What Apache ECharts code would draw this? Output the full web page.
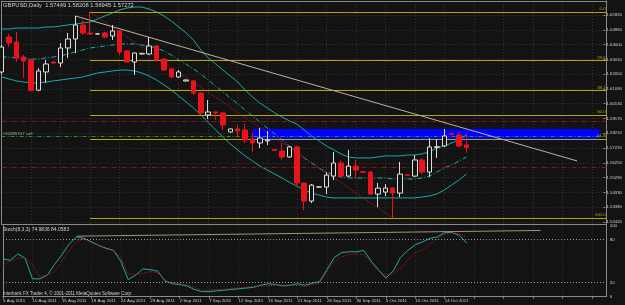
<!DOCTYPE html>
<html><head><meta charset="utf-8">
<script src="https://cdn.jsdelivr.net/npm/echarts/dist/echarts.min.js"></script>
<style>html,body{margin:0;padding:0;background:#131313}#c{width:625px;height:305px}</style>
</head><body><div id="c"></div>
<script>
const symbolName = 'GBPUSD,Daily';
const dates = ['5 Aug 2011','7 Aug 2011','8 Aug 2011','9 Aug 2011','10 Aug 2011','11 Aug 2011','12 Aug 2011','14 Aug 2011','15 Aug 2011','16 Aug 2011','17 Aug 2011','18 Aug 2011','19 Aug 2011','21 Aug 2011','22 Aug 2011','23 Aug 2011','24 Aug 2011','25 Aug 2011','26 Aug 2011','28 Aug 2011','29 Aug 2011','30 Aug 2011','31 Aug 2011','1 Sep 2011','2 Sep 2011','4 Sep 2011','5 Sep 2011','6 Sep 2011','7 Sep 2011','8 Sep 2011','9 Sep 2011','11 Sep 2011','12 Sep 2011','13 Sep 2011','14 Sep 2011','15 Sep 2011','16 Sep 2011','18 Sep 2011','19 Sep 2011','20 Sep 2011','21 Sep 2011','22 Sep 2011','23 Sep 2011','25 Sep 2011','26 Sep 2011','27 Sep 2011','28 Sep 2011','29 Sep 2011','30 Sep 2011','2 Oct 2011','3 Oct 2011','4 Oct 2011','5 Oct 2011','6 Oct 2011','7 Oct 2011','9 Oct 2011','10 Oct 2011','11 Oct 2011','12 Oct 2011','13 Oct 2011','14 Oct 2011','16 Oct 2011','17 Oct 2011','18 Oct 2011'];
const emptyBars = 19;
// [open, close, low, high]
const ohlc = [
[1.62204,1.63834,1.62073,1.63964],[1.64486,1.64094,1.63834,1.64681],[1.64160,1.63116,1.62856,1.64812],[1.63182,1.62921,1.61812,1.63312],
[1.62986,1.61018,1.60953,1.63051],[1.61018,1.62269,1.60953,1.62460],[1.62204,1.62725,1.61486,1.62986],[1.62856,1.62790,1.62725,1.62921],
[1.62790,1.63768,1.62530,1.64094],[1.63768,1.64355,1.63116,1.64746],[1.64355,1.65268,1.63442,1.65855],[1.65268,1.64746,1.64616,1.65594],
[1.64746,1.64681,1.64616,1.66116],[1.64681,1.64690,1.64650,1.64720],[1.64746,1.64486,1.64420,1.64812],[1.64551,1.64877,1.64290,1.65268],
[1.64877,1.63508,1.63312,1.64942],[1.63573,1.62856,1.62800,1.63638],[1.62856,1.63442,1.62008,1.63470],[1.63377,1.63420,1.63350,1.63450],
[1.63377,1.63899,1.63312,1.64486],[1.63899,1.62986,1.62856,1.63964],[1.63051,1.62334,1.62269,1.63116],[1.62399,1.61878,1.61812,1.62460],
[1.61878,1.62204,1.61812,1.62334],[1.61616,1.61682,1.61580,1.61720],[1.61616,1.60834,1.60704,1.61682],[1.60834,1.59530,1.59465,1.60899],
[1.59400,1.59596,1.59139,1.60378],[1.59596,1.59530,1.59074,1.59620],[1.59530,1.58748,1.58422,1.59596],[1.58292,1.58487,1.58250,1.58520],
[1.58487,1.58356,1.57966,1.58748],[1.58422,1.57770,1.57574,1.58813],[1.57835,1.57574,1.56988,1.58226],[1.57574,1.57900,1.57248,1.58552],
[1.57705,1.57770,1.57444,1.58356],[1.57150,1.57090,1.57050,1.57180],[1.57053,1.56662,1.56466,1.57574],[1.56662,1.57314,1.56596,1.57379],
[1.57314,1.54962,1.54762,1.57379],[1.54962,1.53786,1.53198,1.54990],[1.53786,1.54828,1.53655,1.54894],[1.54698,1.54710,1.54650,1.54750],
[1.54698,1.55480,1.54242,1.55676],[1.55416,1.56270,1.55154,1.56988],[1.56270,1.55416,1.55284,1.56400],[1.55416,1.56066,1.55350,1.57118],
[1.56066,1.55808,1.55284,1.56466],[1.55700,1.55660,1.55630,1.55730],[1.55676,1.54242,1.54176,1.55742],[1.54242,1.54632,1.53392,1.54962],
[1.54372,1.54632,1.54110,1.54894],[1.54632,1.54306,1.52686,1.54698],[1.54306,1.55546,1.54046,1.56336],[1.55500,1.55460,1.55430,1.55520],
[1.55416,1.56466,1.55350,1.56792],[1.56466,1.55676,1.55546,1.56596],[1.55676,1.57314,1.55350,1.57900],[1.57290,1.57330,1.56596,1.57835],
[1.57379,1.58030,1.57314,1.58487],[1.58180,1.58140,1.58110,1.58200],[1.58096,1.57379,1.57314,1.58292],[1.57449,1.57272,1.56945,1.58208]
];
const bbUpper = [1.6501,1.6501,1.6507,1.6507,1.6507,1.6507,1.6514,1.6514,1.6520,1.6527,1.6533,1.6540,1.6546,1.6566,1.6586,1.6605,1.6625,1.6638,1.6644,1.6644,1.6631,1.6612,1.6586,1.6553,1.6514,1.6475,1.6429,1.6364,1.6312,1.6273,1.6233,1.6194,1.6155,1.6103,1.6057,1.6018,1.5986,1.5953,1.5927,1.5901,1.5881,1.5842,1.5803,1.5771,1.5738,1.5712,1.5686,1.5666,1.5660,1.5660,1.5660,1.5666,1.5673,1.5673,1.5673,1.5679,1.5679,1.5686,1.5699,1.5725,1.5738,1.5757,1.5777,1.5810];
const bbMiddle = [1.6318,1.6318,1.6312,1.6312,1.6305,1.6305,1.6312,1.6318,1.6325,1.6338,1.6351,1.6364,1.6377,1.6383,1.6390,1.6396,1.6403,1.6403,1.6403,1.6396,1.6390,1.6377,1.6357,1.6331,1.6299,1.6272,1.6240,1.6207,1.6168,1.6129,1.6090,1.6051,1.6012,1.5973,1.5933,1.5894,1.5855,1.5816,1.5777,1.5738,1.5699,1.5660,1.5627,1.5594,1.5568,1.5549,1.5536,1.5529,1.5529,1.5529,1.5529,1.5529,1.5529,1.5523,1.5523,1.5523,1.5523,1.5529,1.5542,1.5568,1.5594,1.5614,1.5640,1.5666];
const bbLower = [1.6188,1.6175,1.6162,1.6155,1.6149,1.6149,1.6155,1.6162,1.6168,1.6175,1.6181,1.6188,1.6201,1.6214,1.6220,1.6227,1.6233,1.6233,1.6227,1.6214,1.6194,1.6168,1.6136,1.6103,1.6064,1.6025,1.5986,1.5940,1.5892,1.5842,1.5796,1.5751,1.5712,1.5673,1.5640,1.5607,1.5581,1.5555,1.5529,1.5501,1.5477,1.5451,1.5431,1.5418,1.5405,1.5399,1.5399,1.5399,1.5399,1.5399,1.5399,1.5399,1.5399,1.5399,1.5399,1.5399,1.5399,1.5405,1.5412,1.5425,1.5451,1.5484,1.5516,1.5555];
const stochMain = [53,51,60,54,25,25,30,45,59,74,84,82,77,72,68,65,50,24,30,39,38,36,22,18,17,15,10,7,7,8,9,10,11,12,13,16,18,17,15,16,18,16,19,21,38,55,62,63,63,65,50,38,26,36,55,65,73,77,82,84,90,90,86,74.9836];
const stochSignal = [44,50,54,55,45,28,30,35,50,65,78,81,76,72,67,65,55,32,31,33,35,34,23,20,18,16,13,9,9,10,10,11,12,13,14,15,15,16,16,16,16,14,17,19,35,49,56,59,60,59,48,35,31,32,40,52,62,66,74,81,88,90,88,84.0583];
const priceTicks = ['1.52420','1.53380','1.54330','1.55290','1.56250','1.57220','1.58210','1.59170','1.60130','1.61090','1.62050','1.63010','1.64000','1.64960','1.65920'];
const stochTicks = [0,20,80,100];
const fibNames = ['0.0','23.6','38.2','50.0','61.8','100.0'];
const fibPrices = [1.66116,1.62946,1.60986,1.59401,1.57816,1.52686];
const fibAnchorBars = [12,53];
const trendBars = [10,78], trendPrices = [1.65855,1.56401];
const zoneBars = [34,81], zonePrices = [1.58487,1.57835];
const orderPrice = 1.57835, orderLabel = '#10285707 sell';
const stopLevels = [1.58768,1.55553];
const stochTrendBars = [10,73], stochTrendValues = [85,93];
const lastPrice = '1.57272';

const cats = dates.concat(Array.from({length: emptyBars}, (_, i) => '#' + (dates.length + i)));
const lastIdx = cats.length - 1;
const F = 'Liberation Sans';
const bg = '#131313', frame = '#8a8a8a', txt = '#d2d2d2', gridc = '#333333';
const cyan = '#1ea9a9', yel = '#b3a412', red = '#e8141c';
const last = ohlc[ohlc.length - 1];

const hideAx = {show: false};
const option = {
  backgroundColor: bg,
  animation: false,
  title: [
    {text: symbolName + '  ' + [last[0], last[3], last[2], last[1]].map(v => v.toFixed(5)).join(' '), left: 3, top: 2, padding: 0, textStyle: {fontSize: 5.8, color: txt, fontWeight: 'normal', fontFamily: F}},
    {text: 'Stoch(8,3,3) ' + stochMain[stochMain.length-1].toFixed(4) + ' ' + stochSignal[stochSignal.length-1].toFixed(4), left: 3, top: 227.5, padding: 0, textStyle: {fontSize: 5, color: txt, fontWeight: 'normal', fontFamily: F}},
    {text: 'Interbank FX Trader 4, © 2001-2011 MetaQuotes Software Corp.', left: 3, top: 291, padding: 0, textStyle: {fontSize: 4.5, color: txt, fontWeight: 'normal', fontFamily: F}}
  ],
  grid: [
    {left: 1.6, right: 18.3, top: 1, height: 223},
    {left: 1.6, right: 18.3, top: 15, height: 207},
    {left: 1.6, right: 18.3, top: 225.5, height: 71.1}
  ],
  xAxis: [
    {type: 'category', gridIndex: 0, data: cats, boundaryGap: false, axisLine: {lineStyle: {color: frame}}, axisTick: hideAx, axisLabel: hideAx,
     splitLine: {show: true, interval: 3, lineStyle: {color: gridc, type: [1, 2]}}},
    {type: 'category', gridIndex: 1, data: cats, boundaryGap: false, show: false},
    {type: 'category', gridIndex: 2, data: cats, boundaryGap: false, axisLine: {lineStyle: {color: frame}},
     axisTick: {show: true, interval: 3, length: 2, lineStyle: {color: frame}},
     axisLabel: {interval: 3, align: 'left', margin: 2, fontSize: 4.4, color: txt, fontFamily: F, formatter: v => v.startsWith('#') ? '' : v},
     splitLine: {show: true, interval: 3, lineStyle: {color: gridc, type: [1, 2]}}},
    {type: 'category', gridIndex: 2, data: cats, boundaryGap: false, position: 'top', axisLine: {lineStyle: {color: frame}}, axisTick: hideAx, axisLabel: hideAx},
    {type: 'category', gridIndex: 0, data: cats, boundaryGap: false, position: 'top', axisLine: {lineStyle: {color: frame}}, axisTick: hideAx, axisLabel: hideAx}
  ],
  yAxis: [
    {type: 'value', gridIndex: 0, min: 1.5229, max: 1.66833, position: 'right', axisLine: {show: true, lineStyle: {color: frame}}, axisTick: hideAx, axisLabel: hideAx, splitLine: hideAx},
    {type: 'value', gridIndex: 1, min: 0, max: priceTicks.length - 1, interval: 1, position: 'right', axisLine: hideAx,
     axisTick: {show: true, length: 2, lineStyle: {color: frame}},
     axisLabel: {margin: 3, fontSize: 4.3, color: txt, fontFamily: F, formatter: v => priceTicks[Math.round(v)]},
     splitLine: {show: true, lineStyle: {color: gridc, type: [1, 2]}}},
    {type: 'value', gridIndex: 2, min: 0, max: 100, interval: 20, position: 'right', axisLine: {show: true, lineStyle: {color: frame}},
     axisTick: hideAx, axisLabel: {margin: 3, fontSize: 4.4, color: txt, fontFamily: F, formatter: v => stochTicks.includes(v) ? String(v) : ''}, splitLine: hideAx},
    {type: 'value', gridIndex: 0, min: 1.5229, max: 1.66833, position: 'left', axisLine: {show: true, lineStyle: {color: frame}}, axisTick: hideAx, axisLabel: hideAx, splitLine: hideAx},
    {type: 'value', gridIndex: 2, min: 0, max: 100, position: 'left', axisLine: {show: true, lineStyle: {color: frame}}, axisTick: hideAx, axisLabel: hideAx, splitLine: hideAx}
  ],
  series: [
    {type: 'line', name: 'upper', xAxisIndex: 0, yAxisIndex: 0, data: bbUpper, symbol: 'none', z: 3,
     lineStyle: {color: cyan, width: 1},
     markArea: {silent: true, z: 1, itemStyle: {color: '#0000ff', opacity: 1},
       data: [[{coord: [zoneBars[0], zonePrices[0]]}, {coord: [zoneBars[1], zonePrices[1]]}]]}},
    {type: 'line', name: 'middle', xAxisIndex: 0, yAxisIndex: 0, data: bbMiddle, symbol: 'none', z: 3,
     lineStyle: {color: cyan, width: 1, type: [5, 2, 1, 2]},
     markLine: {silent: true, symbol: 'none', animation: false,
       data: fibPrices.map((p, i) => [
         {coord: [fibAnchorBars[0], p], lineStyle: {color: yel, width: 1, type: 'solid'},
          label: {show: true, position: 'insideEndTop', formatter: fibNames[i], color: yel, fontSize: 4.4, fontFamily: F, distance: [1, 1]}},
         {coord: [lastIdx, p]}
       ]).concat([
         [{coord: [fibAnchorBars[0], fibPrices[0]], lineStyle: {color: '#e01818', width: 1, type: [1, 1.5]}, label: {show: false}},
          {coord: [fibAnchorBars[1], fibPrices[fibPrices.length - 1]]}]
       ])}},
    {type: 'line', name: 'lower', xAxisIndex: 0, yAxisIndex: 0, data: bbLower, symbol: 'none', z: 3,
     lineStyle: {color: cyan, width: 1},
     markLine: {silent: true, symbol: 'none', animation: false,
       data: [
         {yAxis: orderPrice, lineStyle: {color: '#2f8f2f', width: 1, type: [4, 2, 1, 2]},
          label: {show: true, position: 'insideStartTop', formatter: orderLabel, color: '#b0b0b0', fontSize: 4.4, fontFamily: F, distance: [1, 1]}},
         ...stopLevels.map(p => ({yAxis: p, lineStyle: {color: '#8e1414', width: 1, type: [5, 2, 1, 2]}, label: {show: false}})),
         [{coord: [trendBars[0], trendPrices[0]], lineStyle: {color: '#bdb39c', width: 1, type: 'solid'}, label: {show: false}},
          {coord: [trendBars[1], trendPrices[1]]}]
       ]}},
    {type: 'candlestick', name: 'GBPUSD', xAxisIndex: 0, yAxisIndex: 0, data: ohlc, barWidth: 5, clip: false, z: 6,
     itemStyle: {color: bg, color0: red, borderColor: '#dedede', borderColor0: red, borderWidth: 1},
     markLine: {silent: true, symbol: 'none', animation: false,
       data: [{yAxis: Number(lastPrice), lineStyle: {opacity: 0},
         label: {show: true, position: 'end', formatter: lastPrice, color: '#000', backgroundColor: '#f0f0f0', fontSize: 4.3, fontFamily: F, padding: [1, 2], distance: 2}}]}},
    {type: 'line', name: 'main', xAxisIndex: 2, yAxisIndex: 2, data: stochMain, symbol: 'none', z: 4,
     lineStyle: {color: cyan, width: 1},
     markLine: {silent: true, symbol: 'none', animation: false,
       data: [
         {yAxis: 80, lineStyle: {color: '#9a9a9a', width: 1, type: [1, 2]}, label: {show: false}},
         {yAxis: 20, lineStyle: {color: '#9a9a9a', width: 1, type: [1, 2]}, label: {show: false}},
         [{coord: [stochTrendBars[0], stochTrendValues[0]], lineStyle: {color: '#a39472', width: 1, type: 'solid'}, label: {show: false}},
          {coord: [stochTrendBars[1], stochTrendValues[1]]}]
       ]}},
    {type: 'line', name: 'signal', xAxisIndex: 2, yAxisIndex: 2, data: stochSignal, symbol: 'none', z: 4,
     lineStyle: {color: '#e01818', width: 1, type: [1, 1.5]}}
  ]
};
echarts.init(document.getElementById('c'), null, {renderer: 'canvas'}).setOption(option);
</script></body></html>
